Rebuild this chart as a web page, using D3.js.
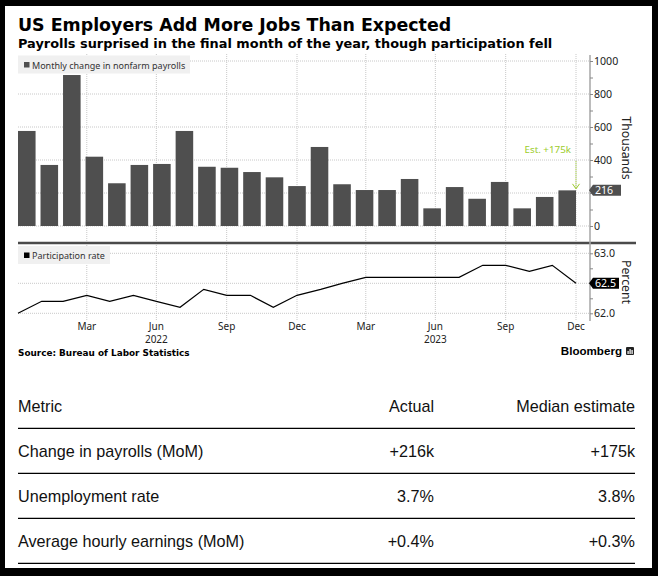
<!DOCTYPE html>
<html>
<head>
<meta charset="utf-8">
<script src="https://cdn.jsdelivr.net/npm/d3@7"></script>
<style>
  html, body { margin: 0; background: #000; }
  svg { display: block; }
</style>
</head>
<body>
<svg id="chart" width="658" height="576"></svg>
<script>
const months = [
  '2021-12', '2022-01', '2022-02', '2022-03', '2022-04', '2022-05', '2022-06',
  '2022-07', '2022-08', '2022-09', '2022-10', '2022-11', '2022-12',
  '2023-01', '2023-02', '2023-03', '2023-04', '2023-05', '2023-06',
  '2023-07', '2023-08', '2023-09', '2023-10', '2023-11', '2023-12'
];
const payrolls = [
  576, 370, 915, 420, 259, 370, 376, 576, 359, 353, 327, 295, 242,
  479, 253, 218, 218, 285, 107, 236, 165, 267, 107, 176, 216
];
const participation = [
  62.0, 62.2, 62.2, 62.3, 62.2, 62.3, 62.2, 62.1, 62.4, 62.3, 62.3, 62.1, 62.3,
  62.4, 62.5, 62.6, 62.6, 62.6, 62.6, 62.6, 62.8, 62.8, 62.7, 62.8, 62.5
];
const quarterTicks = [
  '2022-03-31', '2022-06-30', '2022-09-30', '2022-12-31',
  '2023-03-31', '2023-06-30', '2023-09-30', '2023-12-31'
];
const yearLabels = ['2022', '2023'];
const payrollTicks = [0, 400, 600, 800, 1000];
const rateTicks = [62.0, 63.0];
const payrollEstimate = 175;
const tableHeader = ['Metric', 'Actual', 'Median estimate'];
const metrics = ['Change in payrolls (MoM)', 'Unemployment rate', 'Average hourly earnings (MoM)'];
const actual = ['+216k', '3.7%', '+0.4%'];
const estimate = ['+175k', '3.8%', '+0.3%'];

const chartFont = "'Noto Sans', sans-serif";
const boldFont = "'DejaVu Sans', sans-serif";
const tableFont = "'Liberation Sans', Arial, sans-serif";
const green = '#9ccc2c';

const parseMonth = d3.utcParse('%Y-%m');
const parseDay = d3.utcParse('%Y-%m-%d');
const monthEnd = m => d3.utcDay.offset(d3.utcMonth.offset(parseMonth(m), 1), -1);

const left = 18, right = 576, axisX = 590;

const time = d3.scaleUtc()
  .domain([monthEnd(months[0]), monthEnd(months[months.length - 1])])
  .range([left, right]);
const band = d3.scaleBand()
  .domain(months)
  .range([left, right])
  .paddingInner(0.22)
  .paddingOuter(0);
const jobs = d3.scaleLinear().domain([0, 1000]).range([226, 61]);
const rate = d3.scaleLinear().domain([62, 63]).range([313.3, 253.3]);

const svg = d3.select('#chart');
svg.append('rect')
  .attr('x', 5).attr('y', 6)
  .attr('width', 647).attr('height', 562)
  .attr('fill', '#fff');

// titles
svg.append('text')
  .attr('x', left).attr('y', 30.5)
  .attr('font-family', boldFont).attr('font-weight', 'bold')
  .attr('font-size', 17.4).attr('fill', '#000')
  .text('US Employers Add More Jobs Than Expected');
svg.append('text')
  .attr('x', left).attr('y', 47.5)
  .attr('font-family', boldFont).attr('font-weight', 'bold')
  .attr('font-size', 12.9).attr('fill', '#000')
  .text('Payrolls surprised in the final month of the year, though participation fell');

// gridlines
const grid = svg.append('g')
  .attr('stroke', '#c8c8c8')
  .attr('stroke-dasharray', '1,1')
  .attr('stroke-width', 1);
grid.selectAll('.hj')
  .data(d3.range(0, 1001, 200))
  .enter().append('line')
  .attr('x1', left).attr('x2', axisX)
  .attr('y1', d => jobs(d)).attr('y2', d => jobs(d));
grid.selectAll('.hr')
  .data([62, 62.5, 63])
  .enter().append('line')
  .attr('x1', left).attr('x2', axisX)
  .attr('y1', d => rate(d)).attr('y2', d => rate(d));
grid.selectAll('.vt')
  .data(quarterTicks)
  .enter().append('line')
  .attr('x1', d => time(parseDay(d))).attr('x2', d => time(parseDay(d)))
  .attr('y1', 54).attr('y2', 241);
grid.selectAll('.vb')
  .data(quarterTicks)
  .enter().append('line')
  .attr('x1', d => time(parseDay(d))).attr('x2', d => time(parseDay(d)))
  .attr('y1', 245).attr('y2', 320);

// bars
svg.append('g')
  .selectAll('rect')
  .data(payrolls)
  .enter()
  .append('rect')
  .attr('x', (d, i) => band(months[i]))
  .attr('y', d => jobs(d))
  .attr('width', band.bandwidth())
  .attr('height', d => jobs(0) - jobs(d))
  .attr('fill', '#4f4f4f');

// participation line
svg.append('path')
  .datum(participation)
  .attr('fill', 'none')
  .attr('stroke', '#000')
  .attr('stroke-width', 1.2)
  .attr('d', d3.line()
    .x((d, i) => time(monthEnd(months[i])))
    .y(d => rate(d)));

// legends
const legend = (y, w, color, label) => {
  const g = svg.append('g');
  g.append('rect').attr('x', left).attr('y', y).attr('width', w).attr('height', 18).attr('fill', '#f0f0f0');
  g.append('rect').attr('x', 24).attr('y', y + 6.5).attr('width', 5.5).attr('height', 5.5).attr('fill', color);
  g.append('text').attr('x', 32).attr('y', y + 13)
    .attr('font-family', chartFont).attr('font-size', 9).attr('fill', '#333')
    .text(label);
};
legend(55.5, 172, '#4f4f4f', 'Monthly change in nonfarm payrolls');
legend(246, 92, '#000', 'Participation rate');

// separator
svg.append('line')
  .attr('x1', left).attr('x2', 636)
  .attr('y1', 243).attr('y2', 243)
  .attr('stroke', '#4a4a4a').attr('stroke-width', 2.4);

// right axis
svg.append('line')
  .attr('x1', axisX).attr('x2', axisX)
  .attr('y1', 55).attr('y2', 321)
  .attr('stroke', '#a6a6a6').attr('stroke-width', 1.5);
const jobsAxis = d3.axisRight(jobs)
  .tickValues(d3.range(0, 1001, 100))
  .tickSize(3)
  .tickFormat(d => payrollTicks.includes(d) ? d : '');
const rateAxis = d3.axisRight(rate)
  .tickValues([62, 62.25, 62.5, 62.75, 63])
  .tickSize(3)
  .tickFormat(d => rateTicks.includes(d) ? d3.format('.1f')(d) : '');
[jobsAxis, rateAxis].forEach(ax => {
  const g = svg.append('g')
    .attr('transform', `translate(${axisX}, 0)`)
    .call(ax);
  g.select('.domain').remove();
  g.selectAll('.tick line').attr('stroke', '#888');
  g.selectAll('.tick text')
    .attr('x', 4)
    .attr('font-family', chartFont).attr('font-size', 10.6).attr('fill', '#222');
});

svg.append('text')
  .attr('transform', 'translate(622, 148) rotate(90)')
  .attr('text-anchor', 'middle')
  .attr('font-family', chartFont).attr('font-size', 12.3).attr('fill', '#222')
  .text('Thousands');
svg.append('text')
  .attr('transform', 'translate(622, 282) rotate(90)')
  .attr('text-anchor', 'middle')
  .attr('font-family', chartFont).attr('font-size', 12.3).attr('fill', '#222')
  .text('Percent');

// last value tags
const tag = (y, w, color, label) => {
  svg.append('path')
    .attr('d', `M${axisX - 1},${y} L${axisX + 3},${y - 5.5} H${axisX + 3 + w} V${y + 5.5} H${axisX + 3} Z`)
    .attr('fill', color);
  svg.append('text')
    .attr('x', axisX + 5).attr('y', y + 4)
    .attr('font-family', chartFont).attr('font-size', 10.6).attr('fill', '#fff')
    .text(label);
};
tag(jobs(payrolls[payrolls.length - 1]), 28, '#4f4f4f', payrolls[payrolls.length - 1]);
tag(rate(participation[participation.length - 1]), 26, '#000', d3.format('.1f')(participation[participation.length - 1]));

// estimate annotation
const lastX = time(monthEnd(months[months.length - 1]));
const lastTop = jobs(payrolls[payrolls.length - 1]);
svg.append('text')
  .attr('x', lastX - 5).attr('y', 153)
  .attr('text-anchor', 'end')
  .attr('font-family', chartFont).attr('font-size', 9.8).attr('fill', green)
  .text(`Est. +${payrollEstimate}k`);
svg.append('line')
  .attr('x1', lastX).attr('x2', lastX)
  .attr('y1', 161).attr('y2', lastTop - 1.5)
  .attr('stroke', green).attr('stroke-dasharray', '1,1');
svg.append('path')
  .attr('d', `M${lastX - 3.5},${lastTop - 6.5} L${lastX},${lastTop - 1.5} L${lastX + 3.5},${lastTop - 6.5}`)
  .attr('fill', 'none').attr('stroke', green);

// bottom axis labels
const xLabels = svg.append('g')
  .attr('font-family', chartFont).attr('font-size', 10).attr('fill', '#222')
  .attr('text-anchor', 'middle');
xLabels.selectAll('.m')
  .data(quarterTicks)
  .enter().append('text')
  .attr('x', d => time(parseDay(d)))
  .attr('y', 330)
  .text(d => d3.utcFormat('%b')(parseDay(d)));
xLabels.selectAll('.y')
  .data(quarterTicks.filter(d => d.endsWith('06-30')))
  .enter().append('text')
  .attr('x', d => time(parseDay(d)))
  .attr('y', 343)
  .text((d, i) => yearLabels[i]);

// source and logo
svg.append('text')
  .attr('x', left).attr('y', 356)
  .attr('font-family', boldFont).attr('font-weight', 'bold')
  .attr('font-size', 8.9).attr('fill', '#000')
  .text('Source: Bureau of Labor Statistics');
svg.append('text')
  .attr('x', 622).attr('y', 355)
  .attr('text-anchor', 'end')
  .attr('font-family', tableFont).attr('font-weight', 'bold')
  .attr('font-size', 11.6).attr('fill', '#000')
  .text('Bloomberg');
svg.append('rect')
  .attr('x', 626).attr('y', 347).attr('width', 8).attr('height', 8)
  .attr('rx', 1).attr('fill', '#222');
svg.append('g')
  .selectAll('rect')
  .data([3, 5, 4])
  .enter().append('rect')
  .attr('x', (d, i) => 627.5 + i * 2)
  .attr('y', d => 354 - d)
  .attr('width', 1.2)
  .attr('height', d => d)
  .attr('fill', '#fff');

// table
const rowY = d3.scaleLinear().domain([0, 1]).range([411.7, 456.7]);
const lineY = d3.scaleLinear().domain([0, 1]).range([428.3, 473.3]);
const cols = [{ x: left, anchor: 'start' }, { x: 434, anchor: 'end' }, { x: 635, anchor: 'end' }];
const rows = [tableHeader].concat(metrics.map((m, i) => [m, actual[i], estimate[i]]));
const table = svg.append('g')
  .attr('font-family', tableFont).attr('font-size', 16.2).attr('fill', '#111');
rows.forEach((row, r) => {
  row.forEach((cell, c) => {
    table.append('text')
      .attr('x', cols[c].x)
      .attr('y', rowY(r))
      .attr('text-anchor', cols[c].anchor)
      .text(cell);
  });
  table.append('line')
    .attr('x1', left).attr('x2', 635)
    .attr('y1', lineY(r)).attr('y2', lineY(r))
    .attr('stroke', '#000').attr('stroke-width', 1.3);
});
</script>
</body>
</html>
